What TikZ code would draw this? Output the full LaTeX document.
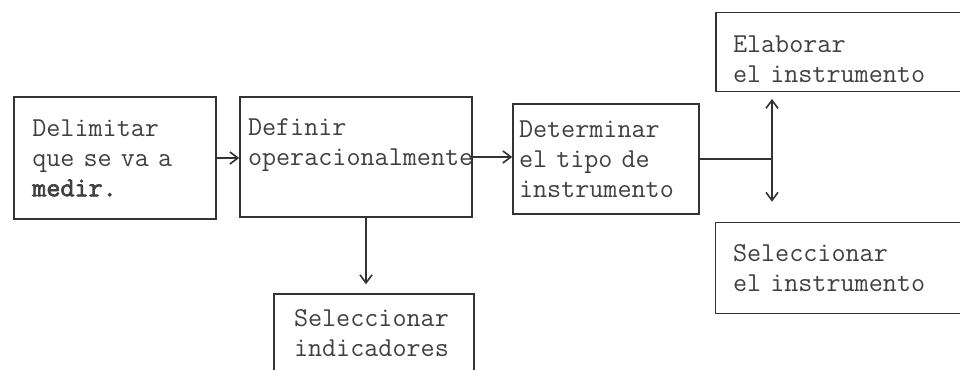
\documentclass[tikz,border=0pt]{standalone}
\usepackage{fontspec}
\setmonofont{Latin Modern Mono}[AutoFakeBold=2.5]
\usepackage{tikz}
\usetikzlibrary{arrows.meta}

\tikzset{
  paso/.style={draw=black!80, line width=1.2pt, text=black!75, inner sep=0pt,
    align=left, font=\ttfamily\fontsize{20.5}{22.5}\selectfont},
  flecha/.style={draw=black!80, line width=1.2pt,
    -{Straight Barb[length=6pt,width=9pt,line width=1.2pt]}}
}

\begin{document}
\begin{tikzpicture}[x=0.75pt, y=-0.75pt]
    \useasboundingbox (0,0) rectangle (960,369);
    \clip (0,0) rectangle (960,369);

    \node[paso, minimum width=151.5pt, minimum height=91.5pt, text width=124pt]
      (delimitar) at (115,158) {Delimitar\\que se va a\\\textbf{medir.}};
    \node[paso, minimum width=174pt, minimum height=90pt, text width=162pt]
      (definir) at (356,157) {Definir\\\mbox{operacionalmente}\\~};
    \node[paso, minimum width=139.5pt, minimum height=82.5pt, text width=130.5pt]
      (tipo) at (606,159) {Determinar\\el tipo de\\instrumento};
    \node[paso, minimum width=184.5pt, minimum height=59.25pt, text width=159pt]
      (elaborar) at (839,52) {\rule{0pt}{24pt}Elaborar\\el instrumento};
    \node[paso, minimum width=185.25pt, minimum height=68.25pt, text width=159pt]
      (selinst) at (839,268) {Seleccionar\\el instrumento};
    \node[paso, minimum width=150pt, minimum height=58.5pt, text width=120pt]
      (indicadores) at (374,333) {Seleccionar\\indicadores};

    \coordinate (bifurca) at (772,159);
    \coordinate (baja) at (366,250);

    \draw[flecha] (delimitar.east) -- (delimitar.east -| definir.west);
    \draw[flecha] (definir.east) -- (definir.east -| tipo.west);
    \draw[flecha] (definir.south -| baja) -- ([yshift=6.75pt]indicadores.north -| baja);

    % salida hacia los dos instrumentos
    \draw[draw=black!80, line width=1.2pt] (tipo.east) -- (bifurca);
    \draw[flecha] (bifurca) -- ([yshift=-5pt]elaborar.south -| bifurca);
    \draw[flecha] (bifurca) -- ([yshift=15pt]selinst.north -| bifurca);
  \end{tikzpicture}
\end{document}
